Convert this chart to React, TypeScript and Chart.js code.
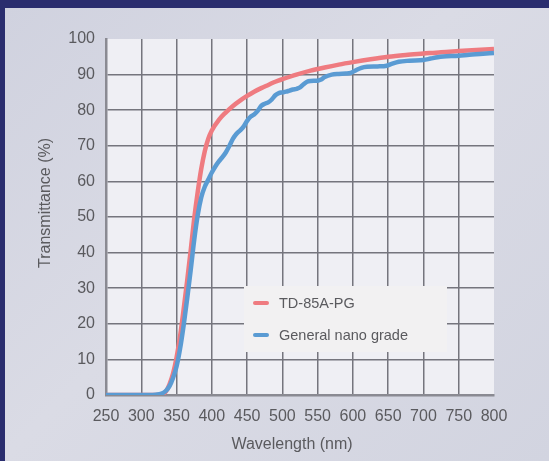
import React, { useEffect, useRef } from "react";
import { Chart, registerables } from "chart.js";

Chart.register(...registerables);

// ---- data ----
const seriesNames = ["TD-85A-PG", "General nano grade"];
const seriesColors = ["#ef7b80", "#5a9bd3"];

const redWavelengths = [250, 300, 320, 330, 335, 340, 345, 350, 355, 360, 365, 370, 375, 380, 385, 390, 395, 400, 410, 420, 430, 440, 450, 460, 470, 480, 490, 500, 520, 540, 560, 580, 600, 625, 650, 675, 700, 725, 750, 775, 800];
const redValues = [0, 0, 0, 0.3, 1, 3, 6, 10.5, 16.5, 24, 32, 40.5, 49.5, 57, 63.5, 68.5, 72, 74.3, 77.3, 79.4, 81.2, 82.7, 84, 85.2, 86.2, 87.1, 88, 88.7, 90, 91.1, 92, 92.8, 93.5, 94.3, 95, 95.5, 95.9, 96.3, 96.6, 96.9, 97.2];

const blueWavelengths = [250, 300, 320, 330, 335, 340, 345, 350, 355, 360, 365, 370, 375, 380, 385, 390, 395, 400, 405, 410, 415, 420, 425, 430, 435, 440, 445, 450, 455, 460, 465, 470, 475, 480, 485, 490, 495, 500, 505, 510, 515, 520, 525, 530, 535, 540, 550, 555, 560, 570, 580, 590, 597, 605, 612, 620, 635, 648, 655, 665, 680, 700, 710, 720, 728, 750, 765, 780, 800];
const blueValues = [0, 0, 0.1, 0.5, 1.2, 2.5, 4.8, 8, 13, 19.5, 27, 35, 43.5, 50.5, 55.5, 58.5, 60.5, 62.5, 64.2, 65.6, 66.8, 68.2, 70, 72, 73.4, 74.3, 75.4, 77, 78.2, 78.8, 79.8, 81.2, 81.8, 82.2, 83, 84.2, 84.8, 85, 85.2, 85.5, 85.8, 86, 86.4, 87.3, 88, 88.2, 88.3, 88.6, 89.3, 90, 90.2, 90.3, 90.5, 91.3, 91.9, 92.2, 92.3, 92.5, 93, 93.6, 93.9, 94.1, 94.5, 94.9, 95.1, 95.3, 95.6, 95.8, 96.1];

const xTitle = "Wavelength (nm)";
const yTitle = "Transmittance (%)";
const xMin = 250, xMax = 800, xStep = 50;
const yMin = 0, yMax = 100, yStep = 10;

const FONT = "'Liberation Sans', Arial, sans-serif";
const TEXT = "#5a5a5e";

const toPoints = (xs: number[], ys: number[]) => xs.map((x, i) => ({ x, y: ys[i] }));

const plotBg = {
  id: "plotBg",
  beforeDraw(chart: any) {
    const { ctx, chartArea: a } = chart;
    ctx.save();
    ctx.fillStyle = "#efeff4";
    ctx.fillRect(a.left, a.top, a.right - a.left, a.bottom - a.top);
    ctx.restore();
  },
};

const extras = {
  id: "extras",
  afterDraw(chart: any) {
    const { ctx, chartArea: a } = chart;
    ctx.save();
    // axis titles
    ctx.fillStyle = TEXT;
    ctx.font = `16px ${FONT}`;
    ctx.textBaseline = "alphabetic";
    ctx.textAlign = "center";
    ctx.fillText(xTitle, a.left + 186, a.bottom + 54);
    ctx.translate(50, a.bottom - 127);
    ctx.rotate(-Math.PI / 2);
    ctx.textAlign = "left";
    ctx.fillText(yTitle, 0, 0);
    ctx.restore();

    // legend box
    ctx.save();
    const bx = a.left + 138, by = a.top + 247, bw = 203, bh = 66;
    ctx.fillStyle = "#f2f1f2";
    ctx.fillRect(bx, by, bw, bh);
    ctx.font = `14.5px ${FONT}`;
    ctx.textBaseline = "middle";
    ctx.textAlign = "left";
    chart.data.datasets.forEach((ds: any, i: number) => {
      const y = by + 17 + i * 32;
      ctx.strokeStyle = ds.borderColor;
      ctx.lineWidth = 4;
      ctx.lineCap = "round";
      ctx.beginPath();
      ctx.moveTo(bx + 11, y);
      ctx.lineTo(bx + 23, y);
      ctx.stroke();
      ctx.fillStyle = TEXT;
      ctx.fillText(ds.label, bx + 35, y + 1);
    });
    ctx.restore();
  },
};

export default function App() {
  const ref = useRef<HTMLCanvasElement | null>(null);

  useEffect(() => {
    if (!ref.current) return;
    const chart = new Chart(ref.current, {
      type: "line",
      data: {
        datasets: [
          {
            label: seriesNames[0],
            data: toPoints(redWavelengths, redValues),
            borderColor: seriesColors[0],
            borderWidth: 4.5,
            pointRadius: 0,
            cubicInterpolationMode: "monotone",
            order: 1,
          },
          {
            label: seriesNames[1],
            data: toPoints(blueWavelengths, blueValues),
            borderColor: seriesColors[1],
            borderWidth: 4.5,
            pointRadius: 0,
            cubicInterpolationMode: "monotone",
            order: 0,
          },
        ],
      },
      options: {
        animation: false,
        responsive: false,
        maintainAspectRatio: false,
        devicePixelRatio: 1,
        layout: { padding: { top: 39, right: 55, bottom: 0, left: 0 } },
        plugins: { legend: { display: false }, tooltip: { enabled: false } },
        scales: {
          x: {
            type: "linear",
            min: xMin,
            max: xMax,
            afterFit: (s: any) => { s.height = 66; },
            ticks: {
              stepSize: xStep,
              padding: 12,
              color: TEXT,
              font: { family: FONT, size: 16 },
              maxRotation: 0,
            },
            grid: {
              drawTicks: false,
              lineWidth: 1.5,
              color: (c: any) => (c.tick && c.tick.value === xMax ? "rgba(0,0,0,0)" : "#75757d"),
            },
            border: { display: true, color: "#8a8a92", width: 2.5 },
          },
          y: {
            min: yMin,
            max: yMax,
            afterFit: (s: any) => { s.width = 106; },
            ticks: {
              stepSize: yStep,
              padding: 11,
              color: TEXT,
              font: { family: FONT, size: 16 },
            },
            grid: {
              drawTicks: false,
              lineWidth: 1.5,
              color: (c: any) => (c.tick && c.tick.value === yMax ? "rgba(0,0,0,0)" : "#75757d"),
            },
            border: { display: true, color: "#8a8a92", width: 2.5 },
          },
        },
      },
      plugins: [plotBg, extras],
    } as any);
    return () => chart.destroy();
  }, []);

  return (
    <div style={{ position: "absolute", left: 0, top: 0, width: 549, height: 461, background: "#2a2d6e", overflow: "hidden" }}>
      <div
        style={{
          position: "absolute",
          left: 5,
          top: 8,
          right: 0,
          bottom: 0,
          background: "linear-gradient(135deg, #d0d2df 0%, #dadbe5 45%, #d2d4e0 100%)",
        }}
      />
      <canvas ref={ref} width={549} height={461} style={{ position: "absolute", left: 0, top: 0, width: 549, height: 461 }} />
    </div>
  );
}
